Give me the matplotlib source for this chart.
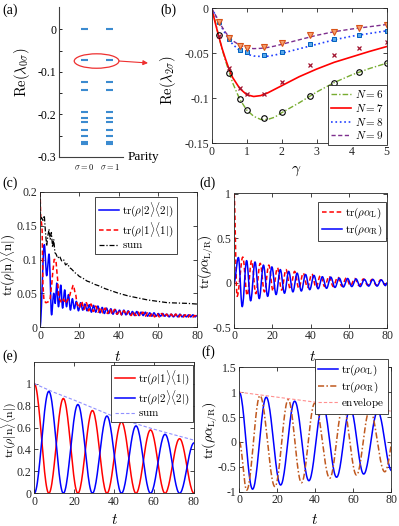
import numpy as np
import matplotlib.pyplot as plt
from matplotlib.patches import Ellipse

plt.rcParams["font.family"] = "serif"
plt.rcParams["font.serif"] = ["Liberation Serif", "DejaVu Serif"]
plt.rcParams["mathtext.fontset"] = "cm"
plt.rcParams["axes.unicode_minus"] = False

W, H = 399, 526

# ---------------- data ----------------
# (a) real parts of lambda_{0 sigma}, same for both parities
lam0 = [0, -0.073, -0.125, -0.143, -0.195, -0.208, -0.218, -0.238, -0.252, -0.266, -0.271]

# (b) Re(lambda_{2 sigma}) vs gamma
gam = [0, 0.1, 0.2, 0.3, 0.4, 0.5, 0.6, 0.8, 1.0, 1.2, 1.4, 1.6, 1.8, 2.0, 2.5, 3.0, 3.5, 4.0, 4.5, 5.0]
n6 = [0, -0.014, -0.031, -0.046, -0.059, -0.071, -0.083, -0.101, -0.113, -0.12, -0.1235, -0.1235,
      -0.121, -0.116, -0.105, -0.093, -0.0825, -0.074, -0.067, -0.061]
n7 = [0, -0.016, -0.031, -0.045, -0.057, -0.068, -0.077, -0.089, -0.096, -0.098, -0.097, -0.094,
      -0.09, -0.086, -0.076, -0.0675, -0.06, -0.054, -0.048, -0.0425]
n8 = [0, -0.007, -0.015, -0.022, -0.029, -0.035, -0.040, -0.047, -0.051, -0.053, -0.0535, -0.0532,
      -0.052, -0.050, -0.045, -0.040, -0.035, -0.031, -0.028, -0.025]
n9 = [0, -0.007, -0.014, -0.021, -0.027, -0.032, -0.036, -0.041, -0.044, -0.0448, -0.0445, -0.0435,
      -0.042, -0.040, -0.035, -0.030, -0.026, -0.023, -0.0205, -0.018]
gam_pts = [0.2, 0.5, 0.8, 1.0, 1.5, 2.0, 2.8, 3.5, 4.2, 5.0]
p6 = [-0.030, -0.0714, -0.101, -0.113, -0.122, -0.1155, -0.097, -0.0825, -0.0707, -0.061]
p7 = [-0.031, -0.0667, -0.088, -0.095, -0.095, -0.082, -0.063, -0.052, -0.044, -0.037]
p8 = [-0.015, -0.034, -0.046, -0.049, -0.052, -0.048, -0.040, -0.034, -0.030, -0.025]
p9 = [-0.015, -0.033, -0.042, -0.044, -0.043, -0.038, -0.030, -0.026, -0.022, -0.0185]

# (c) populations, turning points
c_sum_t = [0, 0.3, 0.8, 1.5, 2.2, 2.8, 3.4, 4.0, 4.6, 5.2, 5.8, 6.4, 7.0, 7.6, 8.2, 9.0, 10, 11, 12, 13,
           14, 15, 16, 17, 18, 19, 20, 22, 24, 26, 28, 30, 33, 36, 40, 45, 50, 55, 60, 65, 70, 75, 80]
c_sum_v = [0.2, 0.158, 0.162, 0.158, 0.165, 0.14, 0.12, 0.135, 0.145, 0.13, 0.14, 0.118, 0.13, 0.11,
           0.108, 0.102, 0.105, 0.098, 0.1, 0.092, 0.094, 0.088, 0.086, 0.083, 0.08, 0.078, 0.075,
           0.072, 0.068, 0.066, 0.063, 0.061, 0.057, 0.054, 0.05, 0.046, 0.043, 0.04, 0.038, 0.036,
           0.0355, 0.035, 0.034]
c_one_t = [0, 0.4, 1.0, 1.5, 2.0, 3.0, 4.0, 5.0, 5.8, 6.6, 7.2, 8.0, 8.8, 9.5, 10.2, 11, 12, 13, 14, 15,
           16, 17, 18, 19, 20, 21.2, 22.4, 23.6, 24.8, 26.0, 27.2, 28.4, 29.6, 30.8, 32.0, 33.2, 34.4,
           35.6, 36.8, 38.0, 39.2, 40.4, 41.6, 42.8, 44.0, 45.2, 46.4, 47.6, 48.8, 50.0, 51.2, 52.4,
           53.6, 54.8, 56.0, 57.2, 58.4, 59.6, 60.8, 62.0, 63.2, 64.4, 65.6, 66.8, 68.0, 69.2, 70.4,
           71.6, 72.8, 74.0, 75.2, 76.4, 77.6, 78.8, 80.0]
c_one_v = [0.2, 0.16, 0.15, 0.06, 0.04, 0.036, 0.037, 0.04, 0.06, 0.085, 0.1, 0.1, 0.075, 0.045, 0.04,
           0.036, 0.041, 0.035, 0.04, 0.046, 0.055, 0.062, 0.05, 0.034, 0.028,
           0.038, 0.026, 0.036, 0.024, 0.034, 0.023, 0.031, 0.022, 0.029, 0.021,
           0.028, 0.02, 0.027, 0.019, 0.026, 0.019, 0.025, 0.018, 0.024, 0.018,
           0.023, 0.017, 0.023, 0.017, 0.022, 0.016, 0.022, 0.016, 0.021, 0.016,
           0.021, 0.015, 0.02, 0.015, 0.02, 0.015, 0.019, 0.015, 0.019, 0.014,
           0.019, 0.014, 0.018, 0.014, 0.018, 0.014, 0.018, 0.014, 0.017, 0.016]
c_two_t = [0, 2.2, 3.4, 4.6, 5.9, 7.0, 7.7, 8.5, 9.4, 10.6, 11.5, 12.6, 13.5, 14.5, 15.5, 16.5, 17.5,
           18.5, 19.6, 20.7, 21.8, 22.9, 24.0, 25.1, 26.2, 27.3, 28.4, 29.5, 30.6, 31.7, 32.8, 33.9,
           35.0, 36.1, 37.2, 38.3, 39.4, 40.5, 41.6, 42.7, 43.8, 44.9, 46.0, 47.1, 48.2, 49.3, 50.4,
           51.5, 52.6, 53.7, 54.8, 55.9, 57.0, 58.1, 59.2, 60.3, 61.4, 62.5, 63.6, 64.7, 65.8, 66.9,
           68.0, 69.1, 70.2, 71.3, 72.4, 73.5, 74.6, 75.7, 76.8, 77.9, 79.0, 80.0]
c_two_v = [0, 0.122, 0.076, 0.108, 0.018, 0.05, 0.035, 0.065, 0.03, 0.062, 0.028, 0.055, 0.03, 0.048,
           0.025, 0.042, 0.027, 0.038, 0.024, 0.036, 0.025, 0.034, 0.024, 0.033, 0.022,
           0.032, 0.022, 0.031, 0.021, 0.029, 0.02, 0.028, 0.02, 0.027, 0.019,
           0.026, 0.019, 0.025, 0.018, 0.025, 0.018, 0.024, 0.018, 0.023, 0.017,
           0.023, 0.017, 0.022, 0.017, 0.022, 0.016, 0.021, 0.016, 0.021, 0.016,
           0.02, 0.016, 0.02, 0.016, 0.019, 0.015, 0.019, 0.015, 0.019, 0.015,
           0.019, 0.015, 0.018, 0.015, 0.018, 0.015, 0.018, 0.015, 0.017]

# (d) tr(rho alpha_L/R), turning points
d_L_t = [0, 1.6, 4.6, 6.9, 9.2, 11.4, 13.7, 15.9, 18.2, 20.4, 22.7, 24.9, 27.2, 29.4, 31.7, 33.9,
         36.2, 38.4, 40.7, 42.9, 45.2, 47.4, 49.7, 51.9, 54.2, 56.4, 58.7, 60.9, 63.2, 65.4, 67.7,
         69.9, 72.2, 74.4, 76.7, 78.9, 80.0]
d_L_v = [1.0, -0.15, 0.29, -0.14, 0.25, -0.12, 0.22, -0.1, 0.2, -0.09, 0.17, -0.08, 0.15, -0.07, 0.13,
         -0.06, 0.11, -0.05, 0.1, -0.05, 0.085, -0.04, 0.075, -0.04, 0.065, -0.035, 0.055, -0.03,
         0.05, -0.03, 0.045, -0.025, 0.04, -0.025, 0.035, -0.02, 0.0]
d_R_t = [0, 2.3, 4.3, 6.6, 8.7, 11.0, 13.2, 15.4, 17.6, 19.8, 22.0, 24.2, 26.4, 28.6, 30.8, 33.0,
         35.2, 37.4, 39.6, 41.8, 44.0, 46.2, 48.4, 50.6, 52.8, 55.0, 57.2, 59.4, 61.6, 63.8, 66.0,
         68.2, 70.4, 72.6, 74.8, 77.0, 79.2, 80.0]
d_R_v = [0, 0.285, -0.265, 0.25, -0.2, 0.235, -0.175, 0.2, -0.15, 0.18, -0.13, 0.15, -0.115, 0.13,
         -0.1, 0.11, -0.09, 0.095, -0.075, 0.085, -0.065, 0.07, -0.06, 0.065, -0.05, 0.055, -0.045,
         0.05, -0.04, 0.045, -0.04, 0.04, -0.035, 0.04, -0.035, 0.035, -0.03, 0.0]

# (e) two-level populations, turning points
e_one_t = [0, 7.3, 14.6, 21.9, 29.2, 36.5, 43.8, 51.1, 58.4, 65.7, 73.0, 80.3]
e_one_v = [1.0, 0, 0.865, 0, 0.755, 0, 0.652, 0, 0.578, 0, 0.498, 0]
e_two_t = [0, 7.3, 14.6, 21.9, 29.2, 36.5, 43.8, 51.1, 58.4, 65.7, 73.0, 80.3]
e_two_v = [0, 0.93, 0, 0.81, 0, 0.705, 0, 0.615, 0, 0.538, 0, 0.46]
env_t = [0, 10, 20, 30, 40, 50, 60, 70, 80]
e_sum_v = [1.0, 0.92, 0.85, 0.775, 0.7, 0.64, 0.585, 0.535, 0.486]

# (f) tr(rho alpha_L/R), turning points
f_L_t = [0, 7.0, 14.2, 21.8, 29.2, 36.7, 44.0, 51.3, 58.5, 65.6, 73.0, 80.4]
f_L_v = [1.0, -0.95, 0.9, -0.866, 0.82, -0.78, 0.745, -0.71, 0.68, -0.646, 0.615, -0.58]
f_R_t = [0, 3.9, 10.9, 18.8, 25.8, 32.8, 39.8, 47.7, 54.7, 61.8, 68.8, 76.7, 83.9]
f_R_v = [0, -0.97, 0.93, -0.9, 0.85, -0.82, 0.78, -0.73, 0.71, -0.666, 0.65, -0.6, 0.6]
f_env_v = [1.0, 0.95, 0.9, 0.85, 0.8, 0.755, 0.71, 0.665, 0.62]

DASHDOT = (0, (4, 1.5, 1, 1.5))
DASHED = (0, (3, 1.8))


def smooth(ts, vs, n=24):
    # cosine easing between consecutive read-off turning points
    xs, ys = [], []
    for i in range(len(ts) - 1):
        s = np.linspace(0, 1, n, endpoint=False)
        w = (1 - np.cos(np.pi * s)) / 2
        xs.append(ts[i] + (ts[i + 1] - ts[i]) * s)
        ys.append(vs[i] + (vs[i + 1] - vs[i]) * w)
    xs.append([ts[-1]])
    ys.append([vs[-1]])
    return np.concatenate(xs), np.concatenate(ys)


fig = plt.figure(figsize=(W / 100, H / 100), dpi=100)


def px_axes(l, r, t, b):
    return fig.add_axes([l / W, 1 - b / H, (r - l) / W, (b - t) / H])


def box_style(ax):
    for s in ax.spines.values():
        s.set_linewidth(0.6)
        s.set_color("#262626")
    ax.tick_params(direction="in", top=True, right=True, length=3, width=0.6,
                   labelsize=8.5, pad=2, colors="#262626")


def ftext(x, y, s, **kw):
    fig.text(x / W, 1 - y / H, s, ha="center", va="center", **kw)


def legend_at(ax, right, top, **kw):
    leg = ax.legend(loc="upper right", bbox_to_anchor=(right / W, 1 - top / H),
                    bbox_transform=fig.transFigure, borderaxespad=0, fancybox=False,
                    framealpha=1, edgecolor="#262626", fontsize=8, borderpad=0.3,
                    labelspacing=0.15, handletextpad=0.3, handlelength=1.8, **kw)
    leg.get_frame().set_linewidth(0.6)
    return leg


# ---------------- (a) ----------------
ax = px_axes(59, 123, 7.3, 156.8)
for sig in [0, 1]:
    ax.hlines(lam0, sig - 0.13, sig + 0.13, color="#3b8bd0", lw=1.5)
ax.set_xlim(-1.0, 1.52)
ax.set_ylim(-0.3, 0.052)
ax.spines["top"].set_visible(False)
ax.spines["right"].set_visible(False)
for s in ["left", "bottom"]:
    ax.spines[s].set_linewidth(0.8)
    ax.spines[s].set_color("#404040")
ax.set_yticks([0, -0.05, -0.1, -0.15, -0.2, -0.25, -0.3])
ax.set_yticklabels(["0", "", "-0.1", "", "-0.2", "", "-0.3"])
ax.tick_params(axis="y", direction="in", length=2.5, width=0.6, labelsize=8.5, pad=2)
ax.set_xticks([0, 1])
ax.set_xticklabels([r"$\sigma=0$", r"$\sigma=1$"], fontsize=6)
ax.tick_params(axis="x", length=0, pad=4)
ax.add_patch(Ellipse((0.48, -0.0745), 1.76, 0.034, fill=False, ec="#ee3030", lw=0.9))
ax.annotate("", xy=(148, H - 63), xycoords="figure pixels", xytext=(1.36, -0.0745),
            textcoords="data", annotation_clip=False,
            arrowprops=dict(arrowstyle="-|>", color="#ee3030", lw=0.8,
                            mutation_scale=7, shrinkA=0, shrinkB=0))
ftext(143, 157, "Parity", fontsize=9.5)
ftext(22, 72, r"$\mathrm{Re}(\lambda_{0\sigma})$", fontsize=10.5, rotation=90)
ftext(10, 10, "(a)", fontsize=10)

# ---------------- (b) ----------------
ax = px_axes(211.7, 386.7, 8.3, 143.3)
ax.plot(gam, n6, color="#77ac30", ls=DASHDOT, lw=1.0, label=r"$N=6$")
ax.plot(gam, n7, color="#ff0000", ls="-", lw=1.2, label=r"$N=7$")
ax.plot(gam, n8, color="#2040ff", ls=":", lw=1.2, label=r"$N=8$")
ax.plot(gam, n9, color="#7e2f8e", ls=DASHED, lw=1.0, label=r"$N=9$")
ax.plot(gam_pts, p6, "o", mfc="none", mec="black", ms=4, mew=0.8)
ax.plot(gam_pts, p7, "x", color="#a2142f", ms=3.5, mew=0.9)
ax.plot(gam_pts, p8, "s", mfc="#5aa8e8", mec="#0060c0", ms=3.5, mew=0.7)
ax.plot(gam_pts, p9, "v", mfc="#f4a070", mec="#d95319", ms=4.5, mew=0.8)
ax.set_xlim(0, 5)
ax.set_ylim(-0.15, 0)
ax.set_xticks([0, 1, 2, 3, 4, 5])
ax.set_yticks([-0.15, -0.1, -0.05, 0])
ax.set_yticklabels(["-0.15", "-0.1", "-0.05", "0"])
box_style(ax)
legend_at(ax, 387, 85)
ftext(296, 171, r"$\gamma$", fontsize=11)
ftext(168, 80, r"$\mathrm{Re}(\lambda_{2\sigma})$", fontsize=10.5, rotation=90)
ftext(168, 10, "(b)", fontsize=10)

# ---------------- (c) ----------------
ax = px_axes(40, 197, 192, 327)
x, y = smooth(c_two_t, c_two_v, 12)
ax.plot(x, y, color="#0000ff", lw=1.1, label=r"$\mathrm{tr}(\rho|2\rangle\langle 2|)$")
x, y = smooth(c_one_t, c_one_v, 12)
ax.plot(x, y, color="#ff0000", ls=DASHED, lw=1.1, label=r"$\mathrm{tr}(\rho|1\rangle\langle 1|)$")
ax.plot(c_sum_t, c_sum_v, color="black", ls=DASHDOT, lw=0.9, label=r"$\mathrm{sum}$")
ax.set_xlim(0, 80)
ax.set_ylim(0, 0.2)
ax.set_xticks([0, 20, 40, 60, 80])
ax.set_yticks([0, 0.05, 0.1, 0.15, 0.2])
ax.set_yticklabels(["0", "0.05", "0.1", "0.15", "0.2"])
box_style(ax)
legend_at(ax, 177, 197)
ftext(118, 357, r"$t$", fontsize=11)
ftext(8.5, 265, r"$\mathrm{tr}(\rho|\mathrm{n}\rangle\langle\mathrm{n}|)$", fontsize=9.5, rotation=90)
ftext(10, 183, "(c)", fontsize=10)

# ---------------- (d) ----------------
ax = px_axes(234, 387, 193.5, 327.7)
x, y = smooth(d_L_t, d_L_v, 14)
ax.plot(x, y, color="#ff0000", ls=DASHED, lw=1.1, label=r"$\mathrm{tr}(\rho\alpha_{\mathrm{L}})$")
x, y = smooth(d_R_t, d_R_v, 14)
ax.plot(x, y, color="#0000ff", lw=1.1, label=r"$\mathrm{tr}(\rho\alpha_{\mathrm{R}})$")
ax.set_xlim(0, 80)
ax.set_ylim(-0.5, 1)
ax.set_xticks([0, 20, 40, 60, 80])
ax.set_yticks([-0.5, 0, 0.5, 1])
ax.set_yticklabels(["-0.5", "0", "0.5", "1"])
box_style(ax)
legend_at(ax, 386, 202)
ftext(313, 357, r"$t$", fontsize=11)
ftext(206.5, 262, r"$\mathrm{tr}(\rho\alpha_{\mathrm{L/R}})$", fontsize=9.5, rotation=90)
ftext(207, 183, "(d)", fontsize=10)

# ---------------- (e) ----------------
ax = px_axes(34.3, 193.5, 361.7, 493.3)
x, y = smooth(e_one_t, e_one_v)
ax.plot(x, y, color="#ff0000", lw=1.1, label=r"$\mathrm{tr}(\rho|1\rangle\langle 1|)$")
x, y = smooth(e_two_t, e_two_v)
ax.plot(x, y, color="#0000ff", lw=1.1, label=r"$\mathrm{tr}(\rho|2\rangle\langle 2|)$")
ax.plot(env_t, e_sum_v, color="#9090ff", ls=DASHED, lw=0.8, label=r"$\mathrm{sum}$")
ax.set_xlim(0, 80)
ax.set_ylim(0, 1.2)
ax.set_xticks([0, 20, 40, 60, 80])
ax.set_yticks([0, 0.2, 0.4, 0.6, 0.8, 1.0])
ax.set_yticklabels(["0", "0.2", "0.4", "0.6", "0.8", "1"])
box_style(ax)
legend_at(ax, 193, 365)
ftext(115, 520, r"$t$", fontsize=11)
ftext(8.5, 430, r"$\mathrm{tr}(\rho|\mathrm{n}\rangle\langle\mathrm{n}|)$", fontsize=8.5, rotation=90)
ftext(10, 356, "(e)", fontsize=10)

# ---------------- (f) ----------------
ax = px_axes(239.3, 391, 367.3, 491.7)
x, y = smooth(f_L_t, f_L_v)
ax.plot(x, y, color="#0000ff", lw=1.1, label=r"$\mathrm{tr}(\rho\alpha_{\mathrm{L}})$")
x, y = smooth(f_R_t, f_R_v)
ax.plot(x, y, color="#c0581e", ls=DASHDOT, lw=1.1, label=r"$\mathrm{tr}(\rho\alpha_{\mathrm{R}})$")
ax.plot(env_t, f_env_v, color="#ff9090", ls=DASHED, lw=0.8, label=r"$\mathrm{envelope}$")
ax.set_xlim(0, 80)
ax.set_ylim(-1, 1.5)
ax.set_xticks([0, 20, 40, 60, 80])
ax.set_yticks([-1, -0.5, 0, 0.5, 1, 1.5])
ax.set_yticklabels(["-1", "-0.5", "0", "0.5", "1", "1.5"])
box_style(ax)
legend_at(ax, 388, 359)
ftext(315, 520, r"$t$", fontsize=11)
ftext(210, 430, r"$\mathrm{tr}(\rho\alpha_{\mathrm{L/R}})$", fontsize=10, rotation=90)
ftext(208, 352, "(f)", fontsize=10)

fig.savefig("out.png", dpi=100)
